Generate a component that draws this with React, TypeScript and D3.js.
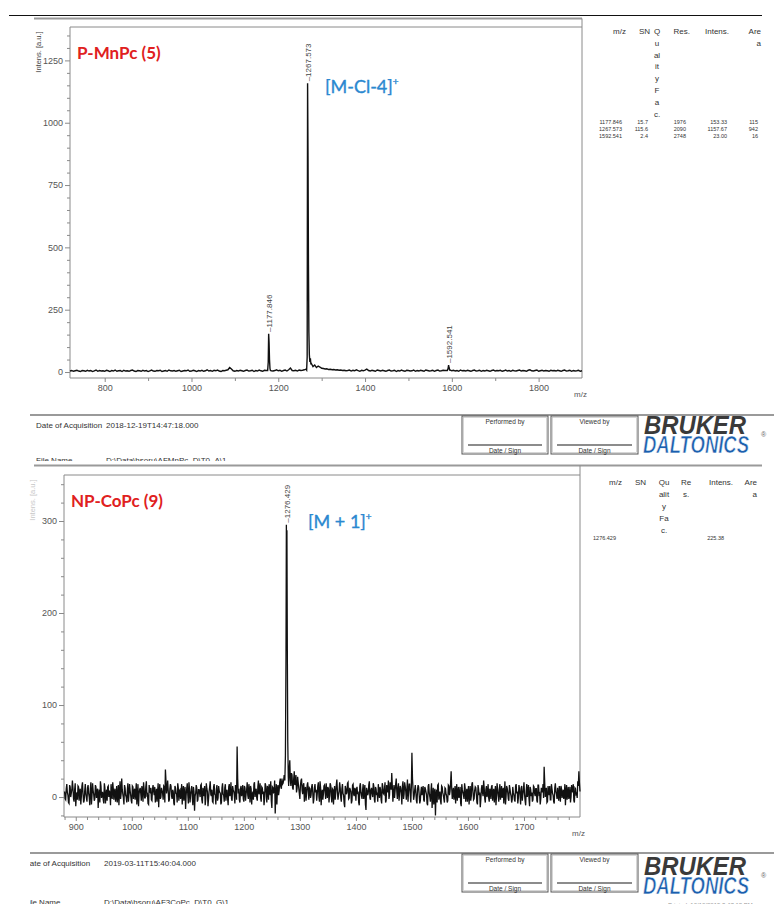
import React, { useEffect, useRef } from 'react';
import * as d3 from 'd3';

type Pt = [number, number];

// ---------- panel 1 : P-MnPc (5) ----------
const mnTitle = 'P-MnPc (5)';
const mnIon = '[M-Cl-4]';
// baseline intensities every 4 m/z from 720 to 1900
const mnBaseline = [
  4, 6, 3, 5, 7, 4, 2, 6, 5, 3, 7, 4, 6, 2, 5, 8, 3, 6, 4, 5,
  3, 7, 5, 2, 6, 4, 8, 3, 5, 6, 2, 7, 4, 5, 3, 6, 8, 4, 2, 6,
  5, 3, 7, 4, 6, 2, 5, 8, 4, 3, 6, 5, 7, 2, 4, 6, 3, 8, 5, 4,
  6, 3, 5, 7, 2, 4, 6, 5, 8, 3, 4, 7, 5, 2, 6, 4, 7, 3, 5, 9,
  4, 6, 3, 7, 5, 8, 4, 2, 6, 5, 7, 9, 18, 12, 5, 3, 6, 4, 7, 5,
  3, 6, 8, 4, 5, 7, 2, 6, 4, 8, 5, 3, 7, 6, 0, 0, 5, 4, 6, 9,
  5, 7, 3, 6, 8, 4, 9, 16, 6, 5, 7, 4, 8, 6, 7, 9, 12, 0, 0, 35,
  22, 28, 18, 24, 20, 15, 14, 12, 13, 10, 11, 9, 10, 8, 9, 7, 8, 6, 7, 5,
  6, 8, 4, 7, 5, 9, 6, 3, 7, 5, 8, 12, 6, 4, 7, 5, 3, 8, 6, 4,
  7, 5, 3, 6, 8, 4, 5, 7, 2, 6, 4, 8, 5, 3, 7, 6, 4, 5, 8, 3,
  6, 4, 7, 5, 3, 8, 6, 4, 5, 7, 3, 6, 8, 4, 5, 7, 6, 6, 0, 8,
  5, 7, 4, 6, 3, 8, 5, 6, 4, 7, 5, 3, 6, 8, 4, 5, 7, 3, 6, 4,
  7, 5, 3, 6, 8, 4, 6, 5, 7, 3, 5, 8, 4, 6, 3, 7, 5, 4, 6, 8,
  4, 6, 5, 3, 7, 9, 5, 4, 6, 8, 3, 5, 7, 4, 6, 5, 3, 7, 5, 6,
  4, 7, 5, 3, 6, 8, 4, 5, 7, 3, 6, 4, 5, 7, 3, 5,
];
const mnPeaks: Pt[][] = [
  [[1175.5, 6], [1176.9, 40], [1177.846, 153], [1178.8, 118], [1179.8, 50], [1180.9, 14], [1181.9, 6]],
  [[1265.4, 8], [1266.6, 60], [1267.573, 1158], [1268.55, 870], [1269.55, 430], [1270.55, 160],
    [1271.6, 70], [1272.8, 40], [1274.0, 55], [1275.2, 30]],
  [[1589.6, 6], [1591.3, 14], [1592.541, 28], [1593.6, 18], [1595.0, 8]],
];
const mnPicked = [1177.846, 1267.573, 1592.541];
const mnXTicks = [800, 1000, 1200, 1400, 1600, 1800];
const mnXMinor = [900, 1100, 1300, 1500, 1700];
const mnYTicks = [0, 250, 500, 750, 1000, 1250];
const mnHead = [['m/z'], ['SN'], ['Q', 'u', 'al', 'it', 'y', 'F', 'a', 'c.'], ['Res.'], ['Intens.'], ['Are', 'a']];
const mnRows = [
  ['1177.846', '15.7', '', '1976', '153.33', '115'],
  ['1267.573', '115.6', '', '2090', '1157.67', '942'],
  ['1592.541', '2.4', '', '2748', '23.00', '16'],
];
const mnDate = '2018-12-19T14:47:18.000';
const mnFile = 'D:\\Data\\hsoru\\AFMnPc_D\\T0_A\\1';

// ---------- panel 2 : NP-CoPc (9) ----------
const coTitle = 'NP-CoPc (9)';
const coIon = '[M + 1]';
// noisy baseline at even m/z, 880 ... 1800
const coEven = [
  6, -3, 14, 2, -7, 11, 4, 18, -2, 8, -10, 5, 12, -4, 9, 1, 16, -6, 7, 3,
  -5, 13, 0, 9, -8, 15, 3, -2, 11, 6, -12, 8, 17, -1, 5, -7, 10, 2, -4, 12,
  7, -9, 4, 16, -3, 9, 1, -6, 13, 5, -2, 20, 3, -8, 10, 0, 7, -5, 14, 2,
  -7, 11, 6, -3, 15, 1, -10, 8, 4, 12, -5, 9, -1, 17, 3, -8, 6, 10, -4, 13,
  2, -6, 9, 5, -11, 14, 0, 7, -3, 11, 30, 4, 18, -5, 9, 12, -2, 6, -9, 10,
  3, 15, -4, 8, 1, -8, 12, 5, -13, 9, 2, 16, -6, 7, -1, 11, -15, 4, 10, -3,
  8, 0, 14, -7, 5, 12, -2, 9, -10, 6, 17, 1, -5, 11, 3, -8, 13, -1, 7, 4,
  -6, 15, 2, 10, -4, 8, -9, 14, 3, -2, 12, 6, -7, 11, 55, 4, -3, 9, 1, 13,
  -5, 10, 3, 16, -2, 7, 12, -8, 5, 14, 0, 9, -4, 18, 6, -1, 11, 3, -9, 15,
  4, 12, -3, 8, 17, -12, 10, 6, -18, 14, 9, 2, 16, 11, 20, 15, 24, 0, 0, 0,
  12, 40, 12, 24, 8, 28, 15, 5, 22, 10, -2, 18, 7, 13, -5, 11, 4, 16, -3, 9,
  2, 14, -7, 10, 5, -4, 12, 0, 17, -9, 8, 3, 13, -2, 7, 11, -6, 15, 1, 9,
  -8, 12, 4, 19, -3, 6, 10, -5, 14, 2, -11, 9, 5, 16, -1, 8, -7, 13, 3, 10,
  -4, 11, 6, -9, 15, 1, 8, -2, 13, -14, 7, 4, 17, -3, 10, 0, 12, -6, 9, 5,
  14, -1, 8, -7, 12, 3, 16, -4, 9, 18, 2, 11, 26, -5, 13, 7, 20, -2, 15, 4,
  10, -8, 17, 3, 12, -3, 19, 6, 14, -6, 48, 9, 1, 13, -4, 8, 11, -7, 6, 2,
  12, -5, 9, 3, -9, 14, 0, 7, -12, 10, 4, -20, 8, 13, -3, 6, -8, 11, 2, -6,
  9, 1, -4, 12, 6, 28, -2, 10, 3, -7, 14, 5, -1, 11, -10, 8, 2, 15, -5, 9,
  4, -8, 12, 1, 16, -3, 7, 10, -6, 13, 2, -11, 9, 5, 18, -2, 8, 0, 14, -5,
  7, 11, -4, 9, 3, -9, 15, 1, 8, -3, 12, 6, -7, 17, 0, 10, -2, 13, 4, -6,
  11, 2, -5, 14, 6, -1, 9, -8, 12, 3, 16, -4, 7, 0, 13, -10, 8, 5, -3, 11,
  1, 9, -6, 13, 4, -2, 8, 14, 33, 0, 10, -5, 7, 12, -3, 9, 2, -7, 15, 3,
  10, -4, 6, 12, -1, 8, 3, -9, 13, 5, -2, 11, 0, 7, 14, -6, 9, 4, 17, 28, 6,
];
// noisy baseline at odd m/z, 881 ... 1799
const coOdd = [
  -2, 9, 5, -6, 13, 0, 8, 10, -5, 15, 1, -3, 11, 6, -8, 12, 3, -4, 14, -1,
  10, 4, -9, 16, 2, 7, -4, 13, -1, 9, 3, -6, 12, 5, -3, 15, -7, 8, 11, 0,
  3, 14, -2, 9, 6, -5, 12, 1, -9, 17, 4, 8, -1, 13, 2, -6, 15, 3, 7, -4,
  12, -2, 9, 5, -8, 14, 3, 10, -4, 7, 16, -1, 11, 2, -7, 13, 5, -3, 9, 6,
  11, 3, -5, 15, 6, -2, 10, 4, 12, -6, 18, 9, 7, -3, 14, 1, 8, -7, 12, 4,
  -6, 10, 7, -2, 14, 5, -4, 11, 2, 15, -7, 9, 3, 12, -9, 6, 1, 13, -5, 8,
  4, 13, -3, 10, 1, -9, 15, 6, -2, 11, 3, 8, -6, 14, 2, 9, -4, 12, 5, -8,
  10, 3, -5, 14, 6, -2, 11, 1, 16, -4, 8, 2, 13, -3, 20, 9, -6, 12, 4, -2,
  12, -4, 8, 2, 14, -6, 9, 4, -3, 16, 7, -1, 11, 3, 15, -5, 10, 6, -2, 13,
  -6, 9, 14, 2, -4, 11, 5, 18, 3, -8, 13, 7, 20, 9, 14, 18, 22, 0, 0, 0,
  30, 18, 26, 10, 20, 13, 24, 9, 16, 4, 12, 20, 3, 15, 8, -4, 13, 6, 10, -1,
  11, 5, -2, 14, 8, 3, 16, -5, 10, 4, -3, 12, 6, 15, -1, 9, 2, 13, -6, 8,
  5, -3, 13, 7, 2, 16, -1, 9, 4, -7, 12, 3, 15, -2, 10, 6, -4, 14, 1, 8,
  9, 3, -6, 12, 5, -2, 14, 6, -8, 10, 2, 13, -1, 8, 4, 15, -3, 11, 2, -5,
  6, 11, -3, 15, 4, 9, -6, 13, 5, -2, 16, 8, 12, 3, -1, 14, 6, 10, -4, 12,
  4, 12, -2, 16, 6, 9, -5, 14, 3, 11, 20, -3, 8, 5, -7, 13, 2, -4, 11, 7,
  -3, 11, 6, -7, 12, 4, -5, 15, 1, -8, 9, 3, -6, 14, 2, -4, 12, 5, -2, 10,
  3, -6, 13, 2, 15, 10, 5, -3, 12, 6, -4, 11, 2, -7, 14, 5, -2, 10, 3, -5,
  12, 2, -4, 14, 6, -2, 11, 3, -8, 9, 5, -3, 13, 1, 10, -6, 12, 4, -1, 9,
  -2, 13, 5, -6, 12, 2, 8, -5, 14, 4, -1, 10, 3, -8, 12, 5, -4, 9, 1, -3,
  5, -3, 12, 4, -7, 13, 2, 10, -4, 8, 3, -9, 14, 6, -2, 11, 1, -5, 12, 4,
  9, -4, 13, 3, -8, 10, 5, -1, 16, 8, -6, 12, 2, -3, 14, 4, -5, 10, 6, -2,
  3, 12, -5, 9, 4, -2, 14, 6, -3, 11, 2, -6, 13, 5, -4, 10, 3, -1, 12, 15,
];
const coPeaks: Pt[][] = [
  [[1273.2, 18], [1274.2, 45], [1275.2, 150], [1275.9, 296], [1276.429, 240], [1276.9, 290],
    [1277.6, 160], [1278.4, 60], [1279.3, 22]],
];
const coPicked = [1276.429];
const coXTicks = [900, 1000, 1100, 1200, 1300, 1400, 1500, 1600, 1700];
const coYTicks = [0, 100, 200, 300];
const coHead = [['m/z'], ['SN'], ['Qu', 'alit', 'y', 'Fa', 'c.'], ['Re', 's.'], ['Intens.'], ['Are', 'a']];
const coRows = [['1276.429', '', '', '', '225.38', '']];
const coDate = '2019-03-11T15:40:04.000';
const coFile = 'D:\\Data\\hsoru\\AF3CoPc_D\\T0_G\\1';

const FONT = '"Liberation Sans", Arial, sans-serif';
const TITLE_FONT = 'Lato, "Open Sans", sans-serif';
const AXIS = '#8a8a8a';

// merge sampled baselines with the hand-read peak profiles
const buildSeries = (bases: { start: number; step: number; values: number[] }[], groups: Pt[][]): Pt[] => {
  const windows = groups.map((g) => [g[0][0], g[g.length - 1][0]]);
  const pts: Pt[] = [];
  bases.forEach((b) => b.values.forEach((v, i) => {
    const mz = b.start + i * b.step;
    if (!windows.some(([a, c]) => mz >= a && mz <= c)) pts.push([mz, v]);
  }));
  groups.forEach((g) => g.forEach((p) => pts.push(p)));
  return pts.sort((a, b) => a[0] - b[0]);
};

const drawPanel = (svg: any, p: any) => {
  const x = d3.scaleLinear().domain(p.xDomain).range([p.left, p.right]);
  const y = d3.scaleLinear().domain(p.yDomain).range([p.bottom, p.top]);
  const g = svg.append('g');

  // separator line + frame
  g.append('line').attr('x1', 34).attr('x2', p.sepEnd).attr('y1', p.sepY).attr('y2', p.sepY)
    .attr('stroke', '#9a9a9a').attr('stroke-width', 2);
  g.append('path')
    .attr('d', `M${p.left},${p.bottom}V${p.top}H${p.right}`)
    .attr('fill', 'none').attr('stroke', AXIS);
  g.append('line').attr('x1', p.right).attr('x2', p.right).attr('y1', p.sepY).attr('y2', p.bottom)
    .attr('stroke', AXIS);
  g.append('line').attr('x1', p.left).attr('x2', p.right).attr('y1', p.bottom).attr('y2', p.bottom)
    .attr('stroke', AXIS);

  const styleAxis = (s: any) => {
    s.select('.domain').remove();
    s.attr('font-family', FONT).attr('font-size', 9);
    s.selectAll('line').attr('stroke', AXIS);
    s.selectAll('text').attr('fill', '#555');
  };

  // y axis
  g.append('g').attr('transform', `translate(${p.left},0)`)
    .call(d3.axisLeft(y).tickValues(p.yTicks).tickSize(5).tickPadding(2).tickFormat(d3.format('d')))
    .call(styleAxis);
  g.append('g').attr('transform', `translate(${p.left},0)`)
    .call(d3.axisLeft(y).tickValues(p.yMinor).tickSize(3).tickFormat(() => ''))
    .call(styleAxis);

  // x axis
  g.append('g').attr('transform', `translate(0,${p.bottom})`)
    .call(d3.axisBottom(x).tickValues(p.xTicks).tickSize(4).tickPadding(3).tickFormat(d3.format('d')))
    .call(styleAxis);
  g.append('g').attr('transform', `translate(0,${p.bottom})`)
    .call(d3.axisBottom(x).tickValues(p.xMinor).tickSize(3).tickFormat(() => ''))
    .call(styleAxis);

  g.append('text').attr('x', p.right - 8).attr('y', p.bottom + 19)
    .attr('font-family', FONT).attr('font-size', 8).attr('fill', '#555').text('m/z');

  g.append('text')
    .attr('transform', `translate(${p.left - 29},${p.top + 25}) rotate(-90)`)
    .attr('text-anchor', 'middle').attr('font-family', FONT).attr('font-size', 7.5)
    .attr('fill', p.yLabelColor).text('Intens. [a.u.]');

  // spectrum
  const series = buildSeries(p.bases, p.peaks);
  const line = d3.line<Pt>().x((d) => x(d[0])).y((d) => y(d[1]));
  g.append('path').datum(series).attr('d', line)
    .attr('fill', 'none').attr('stroke', '#111').attr('stroke-width', p.lineWidth);

  // peak labels
  p.picked.forEach((mz: number, i: number) => {
    const top = d3.max(p.peaks[i], (d: Pt) => d[1]) as number;
    g.append('text')
      .attr('transform', `translate(${x(mz) + 3},${y(top) - 2}) rotate(-90)`)
      .attr('font-family', FONT).attr('font-size', 8).attr('fill', '#444')
      .text('\u2013' + mz.toFixed(3));
  });

  // titles
  g.append('text').attr('x', p.left + 7).attr('y', p.top + 32)
    .attr('font-family', TITLE_FONT).attr('font-weight', 700).attr('font-size', 17)
    .attr('fill', '#e02020').text(p.title);
  const ion = g.append('text').attr('x', p.ionX).attr('y', p.ionY)
    .attr('font-family', TITLE_FONT).attr('font-size', 18).attr('fill', '#2a88d0')
    .attr('stroke', '#2a88d0').attr('stroke-width', 0.35);
  ion.append('tspan').text(p.ion);
  ion.append('tspan').attr('dy', -8).attr('font-size', 10).text('+');

  // peak table
  const tf = g.append('g').attr('font-family', FONT).attr('fill', '#333');
  p.head.forEach((lines: string[], c: number) => {
    lines.forEach((t: string, k: number) => {
      tf.append('text').attr('x', p.headX[c]).attr('y', p.headY + k * p.headStep)
        .attr('text-anchor', p.headAnchor[c]).attr('font-size', 8).text(t);
    });
  });
  p.rows.forEach((row: string[], r: number) => {
    row.forEach((t: string, c: number) => {
      if (!t) return;
      tf.append('text').attr('x', p.dataX[c]).attr('y', p.rowY + r * 7)
        .attr('text-anchor', 'end').attr('font-size', 5.5).text(t);
    });
  });
};

const drawFooter = (svg: any, f: any, id: string) => {
  const clip = svg.append('clipPath').attr('id', id);
  clip.append('rect').attr('x', f.clipX).attr('y', f.y - 4).attr('width', 774).attr('height', f.clipBottom - f.y + 4);
  const g = svg.append('g').attr('clip-path', `url(#${id})`).attr('font-family', FONT);
  g.append('line').attr('x1', 30).attr('x2', 774).attr('y1', f.y).attr('y2', f.y)
    .attr('stroke', '#9a9a9a').attr('stroke-width', 2);
  g.append('text').attr('x', f.labelX).attr('y', f.y + 13).attr('font-size', 8).attr('fill', '#333').text('Date of Acquisition');
  g.append('text').attr('x', f.valueX).attr('y', f.y + 13).attr('font-size', 8).attr('fill', '#333').text(f.date);
  g.append('text').attr('x', f.labelX).attr('y', f.y + f.fileDy).attr('font-size', 8).attr('fill', '#333').text('File Name');
  g.append('text').attr('x', f.valueX).attr('y', f.y + f.fileDy).attr('font-size', 8).attr('fill', '#333').text(f.file);

  [['Performed by', 462, 86], ['Viewed by', 551, 87]].forEach(([label, bx, bw]: any) => {
    g.append('rect').attr('x', bx).attr('y', f.y + 1).attr('width', bw).attr('height', 38)
      .attr('fill', 'none').attr('stroke', '#555').attr('stroke-width', 1);
    g.append('rect').attr('x', bx + 1.5).attr('y', f.y + 2.5).attr('width', bw - 3).attr('height', 35)
      .attr('fill', 'none').attr('stroke', '#bbb').attr('stroke-width', 0.6);
    g.append('line').attr('x1', bx + 6).attr('x2', bx + bw - 6).attr('y1', f.y + 30).attr('y2', f.y + 30)
      .attr('stroke', '#666').attr('stroke-width', 1.4);
    g.append('text').attr('x', bx + bw / 2).attr('y', f.y + 9).attr('text-anchor', 'middle')
      .attr('font-size', 6.5).attr('fill', '#333').text(label);
    g.append('text').attr('x', bx + bw / 2).attr('y', f.y + 38).attr('text-anchor', 'middle')
      .attr('font-size', 6.5).attr('fill', '#333').text('Date / Sign');
  });

  const ly = f.y + f.logoDy;
  g.append('text').attr('x', 644).attr('y', ly + 19).attr('font-size', 25).attr('font-weight', 700)
    .attr('font-style', 'italic').attr('fill', '#3a3a3a')
    .attr('textLength', 102).attr('lengthAdjust', 'spacingAndGlyphs').text('BRUKER');
  g.append('text').attr('x', 643).attr('y', ly + 38).attr('font-size', 24).attr('font-weight', 700)
    .attr('font-style', 'italic').attr('fill', '#1b5fae').attr('stroke', '#fff').attr('stroke-width', 0.6)
    .attr('textLength', 106).attr('lengthAdjust', 'spacingAndGlyphs').text('DALTONICS');
  g.append('text').attr('x', 761).attr('y', ly + 22).attr('font-size', 7).attr('fill', '#666').text('\u00ae');
  g.append('text').attr('x', 668).attr('y', ly + 51).attr('font-size', 6).attr('fill', '#999')
    .text('Printed: 10/10/2019 3:47:18 PM');
};

const App = () => {
  const ref = useRef<SVGSVGElement>(null);

  useEffect(() => {
    const svg = d3.select(ref.current);
    svg.selectAll('*').remove();

    svg.append('line').attr('x1', 9).attr('x2', 762).attr('y1', 15.5).attr('y2', 15.5)
      .attr('stroke', '#111').attr('stroke-width', 1.2);

    drawPanel(svg, {
      left: 70, right: 582, top: 27, bottom: 378, sepY: 18.5, sepEnd: 582,
      xDomain: [720, 1900], yDomain: [-24, 1384],
      xTicks: mnXTicks, xMinor: mnXMinor, yTicks: mnYTicks,
      yMinor: d3.range(50, 1400, 50).filter((v) => v % 250 !== 0),
      bases: [{ start: 720, step: 4, values: mnBaseline }], peaks: mnPeaks, picked: mnPicked,
      lineWidth: 1.4, yLabelColor: '#444',
      title: mnTitle, ion: mnIon, ionX: 325, ionY: 93,
      head: mnHead, headX: [626, 650, 657, 690, 729, 761], headAnchor: ['end', 'end', 'middle', 'end', 'end', 'end'],
      headY: 34, headStep: 11.8, rows: mnRows, dataX: [622, 648, 0, 686, 727, 758], rowY: 124,
    });

    drawPanel(svg, {
      left: 64, right: 580, top: 475, bottom: 817, sepY: 465.5, sepEnd: 762,
      xDomain: [879, 1800], yDomain: [-21.7, 350],
      xTicks: coXTicks, xMinor: d3.range(880, 1801, 20).filter((v) => v % 100 !== 0), yTicks: coYTicks,
      yMinor: d3.range(-20, 350, 20).filter((v) => v % 100 !== 0),
      bases: [{ start: 880, step: 2, values: coEven }, { start: 881, step: 2, values: coOdd }],
      peaks: coPeaks, picked: coPicked,
      lineWidth: 1.3, yLabelColor: '#c8c8c8',
      title: coTitle, ion: coIon, ionX: 308, ionY: 528,
      head: coHead, headX: [622, 646, 664, 686, 733, 757], headAnchor: ['end', 'end', 'middle', 'middle', 'end', 'end'],
      headY: 485, headStep: 12, rows: coRows, dataX: [616, 0, 0, 0, 724, 0], rowY: 540,
    });

    drawFooter(svg, { y: 415, date: mnDate, file: mnFile, clipX: 0, clipBottom: 461, logoDy: 0,
      labelX: 36, valueX: 106, fileDy: 48 }, 'clipTop');
    drawFooter(svg, { y: 853, date: coDate, file: coFile, clipX: 30, clipBottom: 904, logoDy: 3,
      labelX: 24, valueX: 104, fileDy: 52 }, 'clipBottom');
  }, []);

  return (
    <svg ref={ref} width={774} height={907}
      style={{ position: 'absolute', left: 0, top: 0, background: '#fff', display: 'block' }} />
  );
};

export default App;
